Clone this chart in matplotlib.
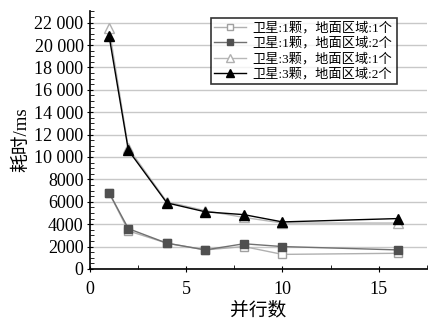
import matplotlib
matplotlib.use('Agg')
import matplotlib.pyplot as plt
from matplotlib.ticker import FuncFormatter, MultipleLocator

plt.rcParams['font.family'] = ['Liberation Serif', 'Noto Sans CJK SC']

threads = [1, 2, 4, 6, 8, 10, 16]
sat1_reg1 = [6800, 3400, 2300, 1700, 2000, 1300, 1400]
sat1_reg2 = [6800, 3600, 2300, 1700, 2250, 2000, 1700]
sat3_reg1 = [21500, 10800, 6000, 5200, 4600, 4100, 4100]
sat3_reg2 = [20800, 10600, 5900, 5100, 4850, 4200, 4500]
labels = ['卫星:1颗，地面区域:1个', '卫星:1颗，地面区域:2个',
          '卫星:3颗，地面区域:1个', '卫星:3颗，地面区域:2个']


def fmt(v, pos):
    v = int(round(v))
    if v >= 10000:
        return '%d %03d' % (v // 1000, v % 1000)
    return '%d' % v


fig = plt.figure(figsize=(4.47, 3.26), dpi=100)
ax = fig.add_axes([0.201, 0.175, 0.754, 0.79])

ax.plot(threads, sat1_reg1, color='#b0b0b0', lw=1.0, marker='s', ms=5.5,
        mfc='white', mec='#a0a0a0', label=labels[0], zorder=3)
ax.plot(threads, sat1_reg2, color='#707070', lw=1.0, marker='s', ms=5.5,
        mfc='#505050', mec='#505050', label=labels[1], zorder=4)
ax.plot(threads, sat3_reg1, color='#b8b8b8', lw=1.0, marker='^', ms=6.5,
        mfc='white', mec='#b0b0b0', label=labels[2], zorder=3)
ax.plot(threads, sat3_reg2, color='black', lw=1.0, marker='^', ms=6.5,
        mfc='black', mec='black', label=labels[3], zorder=4)

ax.set_xlim(0, 17.5)
ax.set_ylim(0, 23000)
ax.xaxis.set_major_locator(MultipleLocator(5))
ax.xaxis.set_minor_locator(MultipleLocator(2.5))
ax.yaxis.set_major_locator(MultipleLocator(2000))
ax.yaxis.set_minor_locator(MultipleLocator(500))
ax.yaxis.set_major_formatter(FuncFormatter(fmt))
ax.grid(axis='y', color='#c8c8c8', lw=1.0, zorder=0)
ax.set_axisbelow(True)

for s in ['top', 'right']:
    ax.spines[s].set_visible(False)
ax.spines['left'].set_linewidth(1.2)
ax.spines['bottom'].set_linewidth(1.2)
ax.tick_params(axis='both', which='major', direction='inout', length=5,
               labelsize=13, pad=2)
ax.tick_params(axis='both', which='minor', direction='in', length=3)
ax.tick_params(axis='x', pad=6)

ax.set_xlabel('并行数', fontsize=13.5, labelpad=3)
ax.set_ylabel('耗时/ms', fontsize=13.5, labelpad=3)

leg = ax.legend(loc='upper right', bbox_to_anchor=(0.93, 1.0), fontsize=9.5,
                frameon=True, fancybox=False, edgecolor='black',
                handlelength=2.4, borderpad=0.3, labelspacing=0.2,
                handletextpad=0.5, markerscale=0.8)
leg.get_frame().set_linewidth(1.2)

fig.savefig('out.png', dpi=100)
